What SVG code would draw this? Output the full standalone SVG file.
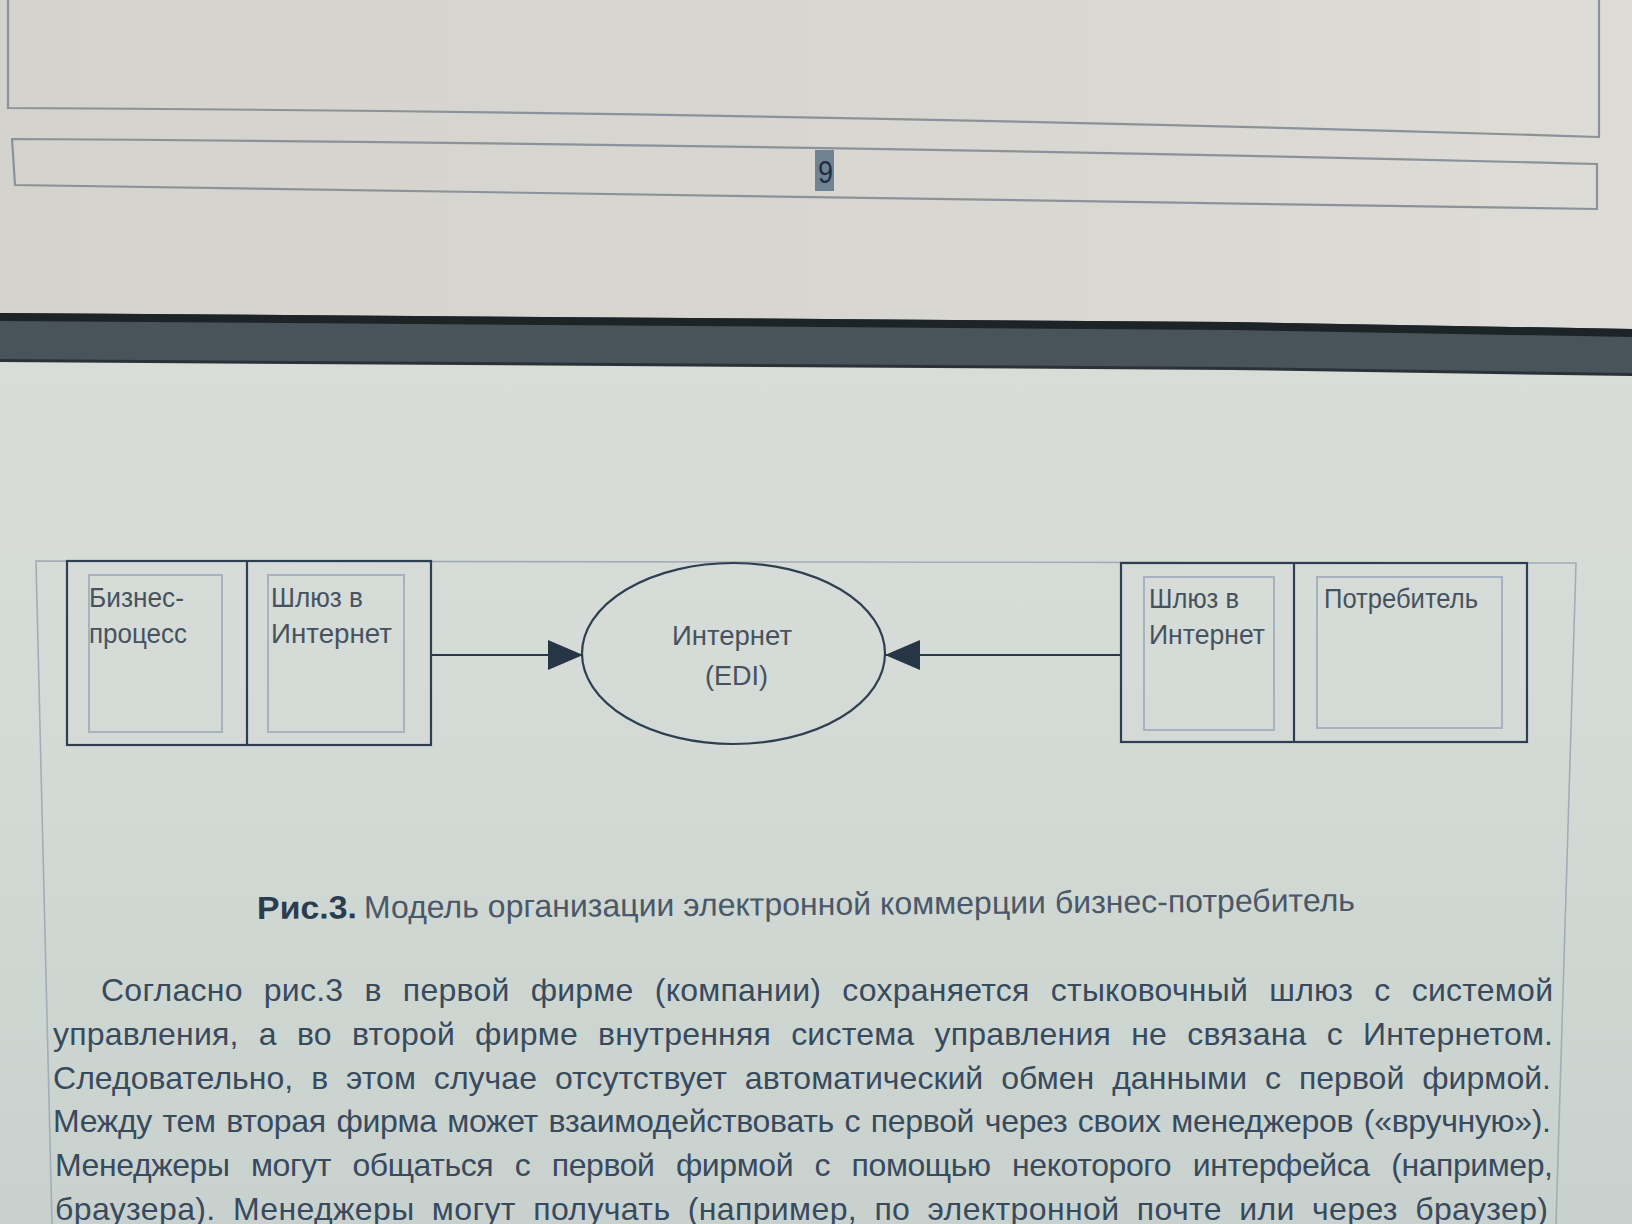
<svg xmlns="http://www.w3.org/2000/svg" width="1632" height="1224" viewBox="0 0 1632 1224">
  <defs>
    <linearGradient id="bgTop" x1="0" y1="0" x2="1" y2="0">
      <stop offset="0" stop-color="#d4d3ce"/>
      <stop offset="0.6" stop-color="#d8d7d2"/>
      <stop offset="1" stop-color="#dddcd7"/>
    </linearGradient>
    <linearGradient id="bgLow" x1="0" y1="0" x2="0" y2="1">
      <stop offset="0" stop-color="#d9ddd8"/>
      <stop offset="0.5" stop-color="#d3dad6"/>
      <stop offset="1" stop-color="#c8d1cd"/>
    </linearGradient>
    <marker id="arrowHead" viewBox="0 0 35 30" refX="35" refY="15" markerWidth="35" markerHeight="30" markerUnits="userSpaceOnUse" orient="auto">
      <path d="M0,0 L35,15 L0,30 Z" fill="#263646"/>
    </marker>
    <style>
      .outer { fill: none; stroke: #2f3f52; stroke-width: 2.2; }
      .inner { fill: none; stroke: #a6b2c0; stroke-width: 2; }
      .label { font-family: "Liberation Sans", Arial, sans-serif; font-size: 28px; fill: #46535f; }
      .conn { fill: none; stroke: #2a3a4c; stroke-width: 2.2; }
      .page { fill: none; stroke: #8c9299; stroke-width: 2.2; }
      .frame { fill: none; stroke: #a3adb6; stroke-width: 1.6; }
      .cap { font-family: "Liberation Sans", Arial, sans-serif; font-size: 32px; fill: #4a5868; }
      .capb { font-family: "Liberation Sans", Arial, sans-serif; font-size: 32px; font-weight: bold; fill: #2c3c50; }
      .para { font-family: "Liberation Sans", Arial, sans-serif; font-size: 32px; fill: #384a5e; }
    </style>
  </defs>

  <!-- backgrounds -->
  <rect x="0" y="0" width="1632" height="330" fill="url(#bgTop)"/>
  <rect x="0" y="360" width="1632" height="864" fill="url(#bgLow)"/>

  <!-- upper page frame -->
  <g id="upper-page">
    <path class="page" d="M8,0 L8,108 Q800,112 1599,137 L1599,0"/>
    <path class="page" d="M12,139 Q800,144 1597,164 L1597,209 Q800,194 15,185 Z"/>
    <rect x="815" y="150" width="19" height="41" fill="#6f8393"/>
    <text x="818" y="183" font-family="Liberation Sans, Arial, sans-serif" font-size="31" fill="#1f2c44" textLength="15" lengthAdjust="spacingAndGlyphs">9</text>
  </g>

  <!-- dark band -->
  <g id="band">
    <path d="M0,313 L1232,322 L1632,329 L1632,375 L1232,369 L0,361 Z" fill="#48545a"/>
    <path d="M0,313 L1232,322 L1632,329 L1632,337 L1232,330 L0,321 Z" fill="#1d2428"/>
    <path d="M0,359 L1232,367 L1632,373 L1632,376 L1232,370 L0,362 Z" fill="#2a3238"/>
  </g>

  <!-- diagram frame -->
  <path class="frame" d="M52,1224 L36,561 L1576,563 L1556,1224"/>

  <!-- left firm -->
  <g id="firm-left">
    <rect class="outer" x="67" y="561" width="364" height="184"/>
    <line class="outer" x1="247" y1="561" x2="247" y2="745"/>
    <g id="node-business-process">
      <rect class="inner" x="89" y="575" width="133" height="157"/>
      <text class="label" x="89" y="607" textLength="95" lengthAdjust="spacingAndGlyphs">Бизнес-</text>
      <text class="label" x="89" y="643" textLength="98" lengthAdjust="spacingAndGlyphs">процесс</text>
    </g>
    <g id="node-gateway-left">
      <rect class="inner" x="268" y="575" width="136" height="157"/>
      <text class="label" x="271" y="607" textLength="92" lengthAdjust="spacingAndGlyphs">Шлюз в</text>
      <text class="label" x="271" y="643" textLength="121" lengthAdjust="spacingAndGlyphs">Интернет</text>
    </g>
  </g>

  <!-- internet -->
  <g id="node-internet">
    <ellipse class="outer" cx="733.5" cy="653.5" rx="151.5" ry="90.5"/>
    <text class="label" x="672" y="645" textLength="120" lengthAdjust="spacingAndGlyphs">Интернет</text>
    <text class="label" x="705" y="685" textLength="63" lengthAdjust="spacingAndGlyphs">(EDI)</text>
  </g>

  <!-- right firm -->
  <g id="firm-right">
    <rect class="outer" x="1121" y="563" width="406" height="179"/>
    <line class="outer" x1="1294" y1="563" x2="1294" y2="742"/>
    <g id="node-gateway-right">
      <rect class="inner" x="1144" y="577" width="130" height="153"/>
      <text class="label" x="1149" y="608" textLength="90" lengthAdjust="spacingAndGlyphs">Шлюз в</text>
      <text class="label" x="1149" y="644" textLength="116" lengthAdjust="spacingAndGlyphs">Интернет</text>
    </g>
    <g id="node-consumer">
      <rect class="inner" x="1317" y="577" width="185" height="151"/>
      <text class="label" x="1324" y="608" textLength="154" lengthAdjust="spacingAndGlyphs">Потребитель</text>
    </g>
  </g>

  <!-- connectors -->
  <g id="connectors">
    <line class="conn" x1="431" y1="655" x2="583" y2="655" marker-end="url(#arrowHead)"/>
    <line class="conn" x1="1121" y1="655" x2="885" y2="655" marker-end="url(#arrowHead)"/>
  </g>

  <!-- caption -->
  <g id="caption" transform="rotate(-0.42 806 914)">
    <text class="capb" x="257" y="915" textLength="100" lengthAdjust="spacingAndGlyphs">Рис.3.</text>
    <text class="cap" x="364" y="915" textLength="991" lengthAdjust="spacingAndGlyphs">Модель организации электронной коммерции бизнес-потребитель</text>
  </g>

  <!-- paragraph -->
  <g id="paragraph">
    <text class="para" x="101" y="1001" textLength="1452" word-spacing="12">Согласно рис.3 в первой фирме (компании) сохраняется стыковочный шлюз с системой</text>
    <text class="para" x="53" y="1045" textLength="1500" word-spacing="11">управления, а во второй фирме внутренняя система управления не связана с Интернетом.</text>
    <text class="para" x="53" y="1089" textLength="1498" word-spacing="9">Следовательно, в этом случае отсутствует автоматический обмен данными с первой фирмой.</text>
    <text class="para" x="53" y="1132" textLength="1498" word-spacing="2">Между тем вторая фирма может взаимодействовать с первой через своих менеджеров («вручную»).</text>
    <text class="para" x="55" y="1176" textLength="1498" word-spacing="13">Менеджеры могут общаться с первой фирмой с помощью некоторого интерфейса (например,</text>
    <text class="para" x="55" y="1220" textLength="1493" word-spacing="8">браузера). Менеджеры могут получать (например, по электронной почте или через браузер)</text>
  </g>
</svg>
